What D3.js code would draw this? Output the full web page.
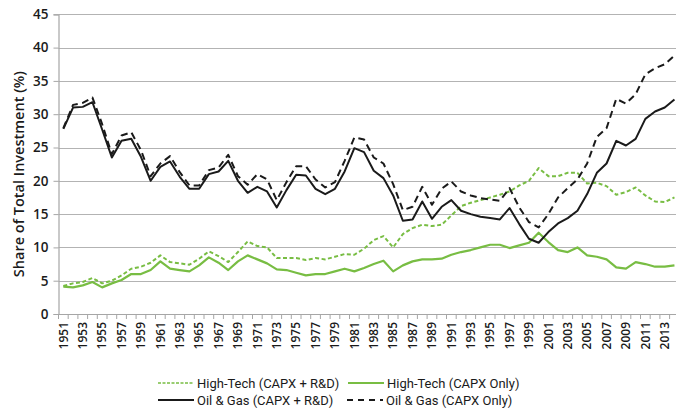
<!DOCTYPE html>
<html>
<head>
<meta charset="utf-8">
<script src="https://cdn.jsdelivr.net/npm/d3@7"></script>
<style>
  html, body { margin: 0; padding: 0; background: #fff; }
  svg { display: block; }
  text { font-family: "Open Sans", "Lato", sans-serif; fill: #1a1a1a; }
</style>
</head>
<body>
<svg id="chart" width="676" height="409"></svg>
<script>
const years = d3.range(1951, 2015);
const yTicks = [0, 5, 10, 15, 20, 25, 30, 35, 40, 45];
const xTickLabels = d3.range(1951, 2014, 2);

const hiTechCapxRD = [4.2,4.6,4.8,5.4,4.6,5.0,5.8,6.8,7.1,7.7,8.8,7.8,7.6,7.4,8.3,9.4,8.7,7.8,9.3,10.9,10.2,10.0,8.4,8.4,8.4,8.1,8.4,8.2,8.6,9.0,8.9,9.8,11.1,11.7,10.0,12.0,12.9,13.4,13.2,13.4,14.8,16.2,16.7,17.1,17.5,17.9,18.4,19.3,20.0,21.9,20.7,20.7,21.2,21.2,19.6,19.7,19.2,17.9,18.3,19.0,17.8,16.9,16.8,17.5];
const hiTechCapx = [4.1,4.0,4.3,4.8,4.0,4.6,5.1,6.0,6.0,6.6,7.9,6.8,6.6,6.4,7.3,8.5,7.7,6.6,7.9,8.8,8.2,7.6,6.7,6.6,6.2,5.8,6.0,6.0,6.4,6.8,6.4,6.9,7.5,8.0,6.4,7.3,7.9,8.2,8.2,8.3,8.9,9.3,9.6,10.0,10.4,10.4,9.9,10.3,10.7,12.2,10.8,9.6,9.3,10.0,8.8,8.6,8.2,7.0,6.8,7.8,7.5,7.1,7.1,7.3];
const oilGasCapxRD = [27.8,31.0,31.1,31.8,27.7,23.5,26.0,26.3,23.6,20.0,22.1,22.9,20.6,18.8,18.8,21.0,21.4,23.0,20.0,18.2,19.1,18.4,16.0,18.6,20.9,20.8,18.8,18.0,18.8,21.4,24.9,24.3,21.5,20.4,17.8,14.0,14.2,16.9,14.3,16.1,17.1,15.5,15.0,14.6,14.4,14.2,15.9,13.5,11.3,10.7,12.3,13.6,14.4,15.5,18.0,21.2,22.6,26.0,25.3,26.3,29.3,30.4,31.0,32.2];
const oilGasCapx = [27.9,31.4,31.7,32.5,28.5,24.0,26.8,27.3,24.6,20.7,22.6,23.7,21.3,19.3,19.3,21.6,22.0,23.9,20.7,19.4,21.0,20.2,17.1,19.8,22.2,22.2,20.2,19.0,19.8,23.0,26.5,26.2,23.5,22.6,19.5,15.6,16.1,19.1,16.4,18.8,19.9,18.4,17.8,17.4,17.2,17.0,18.9,16.0,13.8,13.0,15.0,17.5,18.9,20.2,22.6,26.6,27.9,32.3,31.6,33.0,36.0,36.9,37.5,38.8];

const seriesNames = ["High-Tech (CAPX + R&D)", "High-Tech (CAPX Only)", "Oil & Gas (CAPX + R&D)", "Oil & Gas (CAPX Only)"];

const GREEN = "#78bd43", BLACK = "#1a1a1a";
const series = [
  { name: seriesNames[0], values: hiTechCapxRD, color: GREEN, dash: "4,2.5", width: 2 },
  { name: seriesNames[1], values: hiTechCapx, color: GREEN, dash: null, width: 2.2 },
  { name: seriesNames[2], values: oilGasCapxRD, color: BLACK, dash: null, width: 2 },
  { name: seriesNames[3], values: oilGasCapx, color: BLACK, dash: "7,4.5", width: 2 }
];

const svg = d3.select("#chart");
const L = 58.5, T = 14.3, B = 314, R = 679.3;

const x = d3.scaleBand().domain(years).range([L, R]).paddingInner(0).paddingOuter(0);
const y = d3.scaleLinear().domain([0, 45]).range([B, T]);
const cx = d => x(d) + x.bandwidth() / 2;

// gridlines
svg.append("g").selectAll("line").data(yTicks.filter(t => t > 0)).join("line")
  .attr("x1", L).attr("x2", 676)
  .attr("y1", d => Math.round(y(d)) + 0.5).attr("y2", d => Math.round(y(d)) + 0.5)
  .attr("stroke", "#b3b3b3").attr("stroke-width", 1.2);

// y axis
const yAxis = svg.append("g").attr("transform", `translate(${L},0)`)
  .call(d3.axisLeft(y).tickValues(yTicks).tickSize(5).tickPadding(5));
yAxis.select(".domain").attr("stroke", "#a6a6a6").attr("stroke-width", 1.2);
yAxis.selectAll(".tick line").attr("stroke", "#a6a6a6");
yAxis.selectAll("text").attr("font-size", 13.5).attr("font-weight", 600)
  .style("font-family", "'Open Sans', sans-serif").attr("fill", "#1a1a1a");

// x axis: baseline & category-boundary ticks
const xg = svg.append("g").attr("transform", `translate(0,${B})`);
xg.append("line").attr("x1", L).attr("x2", 676).attr("y1", 0.5).attr("y2", 0.5)
  .attr("stroke", "#a6a6a6").attr("stroke-width", 1.2);
xg.selectAll("line.tk").data(years).join("line").attr("class", "tk")
  .attr("x1", d => x(d)).attr("x2", d => x(d)).attr("y1", 0).attr("y2", 5)
  .attr("stroke", "#a6a6a6");
const xAxis = svg.append("g").attr("transform", `translate(0,${B})`)
  .call(d3.axisBottom(x).tickValues(xTickLabels).tickSize(0).tickPadding(0));
xAxis.select(".domain").remove();
xAxis.selectAll("text")
  .attr("transform", "rotate(-90)")
  .attr("x", -8).attr("y", 0).attr("dy", "0.36em")
  .style("text-anchor", "end")
  .attr("font-size", 12).attr("font-weight", 600)
  .style("font-family", "'Open Sans', sans-serif").attr("fill", "#1a1a1a");

// y title
svg.append("text")
  .attr("transform", `translate(19,${(T + B) / 2 + 10}) rotate(-90)`)
  .attr("text-anchor", "middle").attr("dy", "0.35em")
  .attr("font-size", 14.5).attr("font-weight", 600)
  .text("Share of Total Investment (%)");

// lines
const line = d3.line().x((d, i) => cx(years[i])).y(d => y(d));
svg.append("g").selectAll("path").data(series).join("path")
  .attr("d", s => line(s.values))
  .attr("fill", "none").attr("stroke", s => s.color)
  .attr("stroke-width", s => s.width)
  .attr("stroke-dasharray", s => s.dash)
  .attr("stroke-linejoin", "round");

// legend
const legendPos = [
  { x: 158, y: 383 }, { x: 348, y: 383 },
  { x: 158, y: 400 }, { x: 347, y: 400 }
];
const lg = svg.append("g").selectAll("g").data(series).join("g")
  .attr("transform", (s, i) => `translate(${legendPos[i].x},${legendPos[i].y})`);
lg.append("line").attr("x1", 0).attr("x2", 36).attr("y1", 0).attr("y2", 0)
  .attr("stroke", s => s.color).attr("stroke-width", s => s.dash ? (s.color === GREEN ? 1.5 : 2) : 2)
  .attr("stroke-dasharray", (s) => s.dash ? (s.color === GREEN ? "3,1.5" : "6,5") : null);
lg.append("text").attr("x", 39).attr("y", 0).attr("dy", "0.35em")
  .attr("font-size", 13)
  .style("font-family", "Roboto, sans-serif")
  .text(s => s.name);
</script>
</body>
</html>
